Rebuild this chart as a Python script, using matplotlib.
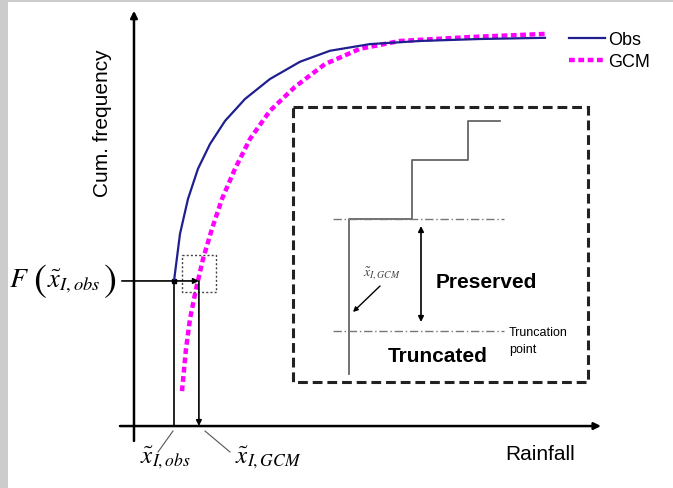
import matplotlib
matplotlib.use("Agg")
import matplotlib.pyplot as plt
from matplotlib.patches import Rectangle

plt.rcParams['font.family'] = ['Liberation Sans', 'DejaVu Sans']
plt.rcParams['mathtext.fontset'] = 'stix'

# Cumulative frequency curves (rainfall, cum. frequency)
obs_rain = [0.857, 0.985, 1.156, 1.370, 1.627, 1.949, 2.377, 2.912, 3.555, 4.197, 5.054, 6.124, 7.409, 8.801]
obs_cdf = [0.370, 0.490, 0.579, 0.656, 0.719, 0.778, 0.834, 0.885, 0.929, 0.957, 0.974, 0.982, 0.987, 0.990]
gcm_rain = [1.028, 1.113, 1.199, 1.328, 1.478, 1.670, 1.884, 2.163, 2.484, 2.912, 3.448, 4.090, 4.839,
            5.696, 7.195, 8.801]
gcm_cdf = [0.089, 0.196, 0.273, 0.349, 0.426, 0.503, 0.579, 0.656, 0.732, 0.804, 0.865, 0.923, 0.962,
           0.982, 0.992, 1.000]

# threshold values
x_obs = 0.857
x_gcm = 1.39
f_obs = 0.370
series_labels = ['Obs', 'GCM']

fig = plt.figure(figsize=(6.73, 4.89), dpi=100)

# main chart axes (rainfall / cumulative frequency units)
ax = fig.add_axes([0, 0, 1, 1])
ax.set_xlim(-2.869, 11.542)
ax.set_ylim(-0.158, 1.089)
ax.axis('off')

# overlay axes in pixel units for the schematic inset and labels
ov = fig.add_axes([0, 0, 1, 1], zorder=-1)
ov.set_xlim(0, 673)
ov.set_ylim(489, 0)
ov.axis('off')

# grey page border
ov.add_patch(Rectangle((0, 0), 8, 489, color='#cccccc', lw=0))
ov.add_patch(Rectangle((0, 0), 673, 3, color='#cccccc', lw=0))

# axes with arrows
arr = dict(arrowstyle='-|>', color='black', lw=1.8, mutation_scale=10, shrinkA=0, shrinkB=0)
ax.annotate('', xy=(0, 1.059), xytext=(0, -0.038), arrowprops=arr)
ax.annotate('', xy=(10.0, 0), xytext=(-0.30, 0), arrowprops=arr)

# curves
l_obs, = ax.plot(obs_rain, obs_cdf, color='#1f1f8f', lw=1.6, zorder=3)
l_gcm, = ax.plot(gcm_rain, gcm_cdf, color='#ff00ff', lw=3.2, dashes=(1.3, 0.8), zorder=2)

# quantile mapping lines
small = dict(arrowstyle='-|>', color='black', lw=1.2, mutation_scale=8, shrinkA=0, shrinkB=0)
ax.annotate('', xy=(x_gcm, f_obs), xytext=(-0.26, f_obs), arrowprops=small)
ax.plot([x_obs, x_obs], [0, f_obs], color='black', lw=1.2)
ax.annotate('', xy=(x_gcm, 0), xytext=(x_gcm, f_obs), arrowprops=small)
ax.plot([x_obs], [f_obs], marker='s', ms=3, color='black')

# small dotted box around the mapped point
ov.add_patch(Rectangle((182, 256), 34, 37, fill=False, ls=(0, (1.5, 1.5)), lw=1.0, ec='#444444'))

# labels
ov.text(19, 280, r'$F$', fontsize=20, ha='center', va='center')
ov.text(40, 281, r'$($', fontsize=28, ha='center', va='center')
ov.text(74, 281, r'$\tilde{x}_{I,obs}$', fontsize=19, ha='center', va='center')
ov.text(110, 281, r'$)$', fontsize=28, ha='center', va='center')
ov.text(165, 458, r'$\tilde{x}_{I,obs}$', fontsize=18, ha='center', va='center')
ov.text(268, 458, r'$\tilde{x}_{I,GCM}$', fontsize=18, ha='center', va='center')
ov.plot([173, 158], [432, 453], color='#555555', lw=0.8)
ov.plot([205, 230], [432, 453], color='#555555', lw=0.8)
ov.text(103, 123, 'Cum. frequency', fontsize=15, rotation=90, ha='center', va='center')
ov.text(540, 455, 'Rainfall', fontsize=15, ha='center', va='center')

# legend
ax.legend([l_obs, l_gcm], series_labels, loc='upper left', frameon=False,
          bbox_to_anchor=(560 / 673, 1 - 23 / 489), bbox_transform=fig.transFigure,
          fontsize=13, handlelength=2.0, handletextpad=0.15, labelspacing=0.3, borderpad=0)

# inset schematic
ov.add_patch(Rectangle((293, 108), 295, 275, fill=False, ls=(0, (3.2, 1.6)), lw=2.2, ec='#222222'))
ov.plot([349, 349, 412, 412, 468, 468, 500], [375, 220, 220, 161, 161, 122, 122], color='#666666', lw=1.3)
for yy in [220, 332]:
    ov.plot([333, 504], [yy, yy], color='#777777', lw=1.0, ls='-.', dashes=(6, 2, 1, 2))
ov.annotate('', xy=(421, 227), xytext=(421, 323),
            arrowprops=dict(arrowstyle='<|-|>', color='black', lw=1.2, mutation_scale=8, shrinkA=0, shrinkB=0))
ov.text(486, 283, 'Preserved', fontsize=15, fontweight='bold', ha='center', va='center')
ov.text(438, 356, 'Truncated', fontsize=15, fontweight='bold', ha='center', va='center')
ov.text(509, 333, 'Truncation', fontsize=9, ha='left', va='center')
ov.text(509, 350, 'point', fontsize=9, ha='left', va='center')
ov.text(382, 274, r'$\tilde{x}_{I,GCM}$', fontsize=10, ha='center', va='center', color='#444444')
ov.annotate('', xy=(353, 313), xytext=(380, 287),
            arrowprops=dict(arrowstyle='-|>', color='black', lw=1.0, mutation_scale=7, shrinkA=0, shrinkB=0))

fig.savefig('out.png', dpi=100)
